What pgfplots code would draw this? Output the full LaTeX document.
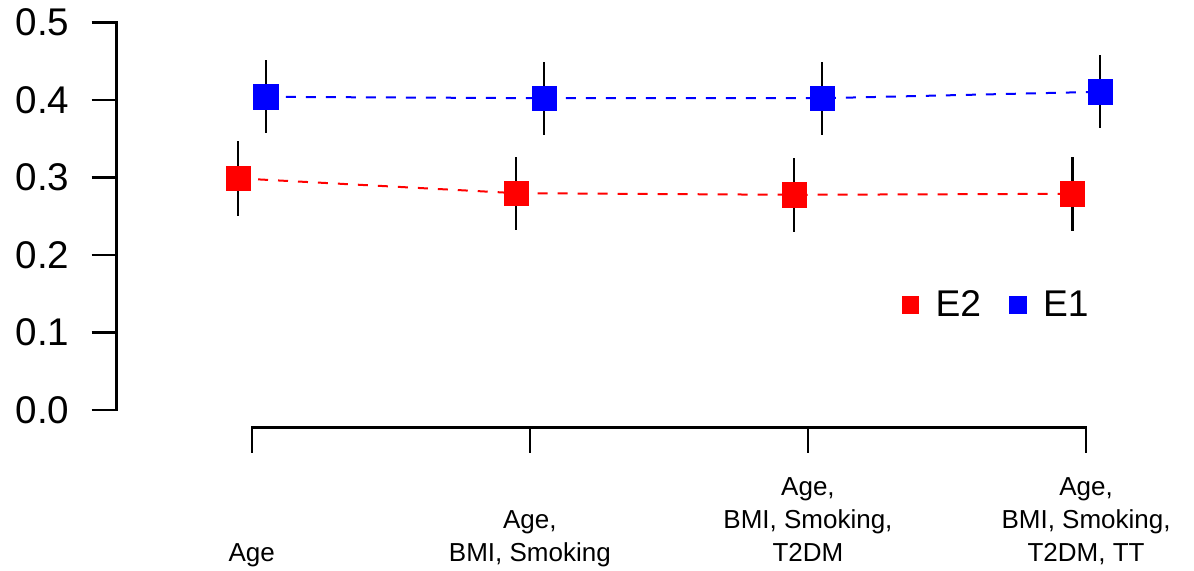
\documentclass[border=0pt]{standalone}
\usepackage{pgfplots}
\pgfplotsset{compat=1.18}
\usepackage{pgfplotstable}
\usepackage{fontspec}
\setmainfont{Liberation Sans}

\pgfplotstableread{
x y ep em
0.951 0.2991 0.0482 0.0483
1.951 0.2799 0.0471 0.0475
2.951 0.2778 0.0479 0.0476
3.951 0.2791 0.0471 0.0476
}\redtab
\pgfplotstableread{
x y ep em
1.051 0.4043 0.0475 0.0471
2.051 0.4025 0.0472 0.0475
3.051 0.4025 0.0472 0.0475
4.051 0.4108 0.0475 0.0471
}\bluetab

\begin{document}
\begin{tikzpicture}
\begin{axis}[
  scale only axis,
  width=526.4pt, height=210.25pt,
  xmin=0.5146, xmax=4.3,
  ymin=-0.02285, ymax=0.52,
  axis x line*=bottom, axis y line*=left,
  axis line style={draw=none},
  xtick={1,2,3,4},
  xticklabels={{Age\strut},{Age,\\BMI, Smoking\strut},{Age,\\BMI, Smoking,\\T2DM\strut},{Age,\\BMI, Smoking,\\T2DM, TT\strut}},
  ytick={0,0.1,0.2,0.3,0.4,0.5},
  yticklabels={0.0,0.1,0.2,0.3,0.4,0.5},
  tick align=outside,
  major tick length=12.5pt,
  every tick/.style={black, line width=1.2pt},
  xticklabel style={font=\fontsize{13}{16.5}\selectfont, align=center, anchor=south, inner sep=0pt, yshift=-59.45pt},
  yticklabel style={font=\fontsize{19.3}{22}\selectfont, anchor=east, inner sep=0pt, xshift=-11pt},
  clip=false,
  legend style={draw=none, fill=none, at={(axis cs:3.68,0.1355)}, anchor=center,
    font=\fontsize{18.6}{22}\selectfont, legend columns=2,
    /tikz/every even column/.append style={column sep=12pt}},
  legend cell align=left,
]
\addplot[draw=none, mark=none, forget plot,
  error bars/.cd, y dir=both, y explicit, error mark=none,
  error bar style={draw=black, line width=1.15pt, solid}]
  table[x=x, y=y, y error plus=ep, y error minus=em] {\redtab};
\addplot[draw=none, mark=none, forget plot,
  error bars/.cd, y dir=both, y explicit, error mark=none,
  error bar style={draw=black, line width=1.15pt, solid}]
  table[x=x, y=y, y error plus=ep, y error minus=em] {\bluetab};
\addplot[red, line width=1pt, dash pattern=on 5pt off 5pt, mark=square*, mark size=6.1pt,
  mark options={solid, fill=red, line width=0.3pt}, forget plot]
  table[x=x, y=y] {\redtab};
\addplot[blue, line width=1pt, dash pattern=on 5pt off 5pt, mark=square*, mark size=6.1pt,
  mark options={solid, fill=blue, line width=0.3pt}, forget plot]
  table[x=x, y=y] {\bluetab};
\addlegendimage{legend image code/.code={\fill[red, draw=none] (0pt,-4.4pt) rectangle (8.8pt,4.4pt); \path[draw=none, fill=none] (0pt,0pt) rectangle (15pt,0.1pt);}}
\addlegendentry{E2}
\addlegendimage{legend image code/.code={\fill[blue, draw=none] (0pt,-4.4pt) rectangle (8.8pt,4.4pt); \path[draw=none, fill=none] (0pt,0pt) rectangle (15pt,0.1pt);}}
\addlegendentry{E1}
\draw[line width=1.2pt, line cap=rect] (axis cs:1,-0.02285) -- (axis cs:4,-0.02285);
\draw[line width=1.2pt, line cap=rect] (axis cs:0.5146,0) -- (axis cs:0.5146,0.5);
\end{axis}
\pgfresetboundingbox
\path (current axis.south west) ++(-58.35pt,-71.65pt) rectangle ++(597pt,285.5pt);
\end{tikzpicture}
\end{document}
